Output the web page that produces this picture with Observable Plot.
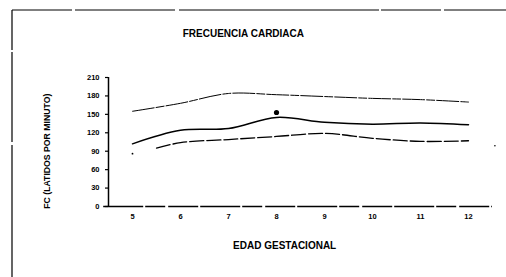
<!DOCTYPE html>
<html><head><meta charset="utf-8">
<script src="https://cdn.jsdelivr.net/npm/d3@7"></script>
<script src="https://cdn.jsdelivr.net/npm/@observablehq/plot@0.6"></script>
<style>body{margin:0;background:#fff;} svg{font-family:"Liberation Sans",Arial,sans-serif;}</style>
</head><body>
<div id="chart"></div>
<script>
const weeks = [5, 6, 7, 8, 9, 10, 11, 12];
const upper = [155, 168, 184, 182, 179, 176, 174, 170];
const mean = [102, 124, 127, 145, 137, 134, 136, 133];
const lowerWeeks = [5.5, 6, 7, 8, 9, 10, 11, 12];
const lower = [95, 104, 109, 114, 119, 111, 106, 107];
const dotWeek = [8, 5, 12.55];
const dotValue = [153, 86, 99];
const dotSize = [2.6, 0.9, 0.8];
const yTicks = [0, 30, 60, 90, 120, 150, 180, 210];
const titleText = "FRECUENCIA CARDIACA";
const xLabel = "EDAD GESTACIONAL";
const yLabel = "FC (LATIDOS POR MINUTO)";

const up = weeks.map((w, i) => ({w, v: upper[i]}));
const me = weeks.map((w, i) => ({w, v: mean[i]}));
const lo = lowerWeeks.map((w, i) => ({w, v: lower[i]}));
const dots = dotWeek.map((w, i) => ({w, v: dotValue[i], r: dotSize[i]}));

const chart = Plot.plot({
  width: 506, height: 277,
  marginLeft: 108, marginRight: 14, marginTop: 77, marginBottom: 71,
  style: {fontFamily: "Liberation Sans, Arial, sans-serif", background: "#fff"},
  x: {domain: [4.5, 12.5], label: null},
  y: {domain: [0, 210], label: null},
  r: {type: "identity"},
  marks: [
    Plot.axisX({ticks: weeks, tickSize: 0, tickPadding: 7, fontSize: 7.5, fontWeight: "bold", label: null}),
    Plot.axisY({ticks: yTicks, tickSize: 3, tickPadding: 6, fontSize: 7.5, fontWeight: "bold", label: null, strokeWidth: 1.2}),
    Plot.ruleX([4.5], {stroke: "#000", strokeWidth: 1.5}),
    Plot.ruleY([0], {x1: 4.4, x2: 12.5, stroke: "#000", strokeWidth: 1.6, strokeDasharray: "40,2,20,3,30,2"}),
    Plot.line(up, {x: "w", y: "v", curve: "catmull-rom", stroke: "#000", strokeWidth: 1, strokeDasharray: "22,2,8,2"}),
    Plot.line(me, {x: "w", y: "v", curve: "catmull-rom", stroke: "#000", strokeWidth: 1.5}),
    Plot.line(lo, {x: "w", y: "v", curve: "catmull-rom", stroke: "#000", strokeWidth: 1.3, strokeDasharray: "14,3"}),
    Plot.dot(dots, {x: "w", y: "v", r: "r", fill: "#000", stroke: null}),
    Plot.text([titleText], {x: 7.31, y: 281, text: d => d, fontSize: 10, fontWeight: "bold", fill: "#000"}),
    Plot.text([xLabel], {x: 8.17, y: -63.5, text: d => d, fontSize: 10, fontWeight: "bold", fill: "#000"}),
    Plot.text([yLabel], {x: 3.23, y: 90, text: d => d, rotate: -90, fontSize: 8.7, fontWeight: "bold", fill: "#000"})
  ]
});
const svg = d3.select(chart);
svg.append("line").attr("x1", 12).attr("y1", 10).attr("x2", 506).attr("y2", 10).attr("stroke", "#000").attr("stroke-width", 1).attr("stroke-dasharray", "60,3,100,4,200,2");
svg.append("line").attr("x1", 12).attr("y1", 10).attr("x2", 12).attr("y2", 277).attr("stroke", "#000").attr("stroke-width", 1.2).attr("stroke-dasharray", "40,2,90,3,140,2");
document.getElementById("chart").append(chart);
</script>
</body></html>
